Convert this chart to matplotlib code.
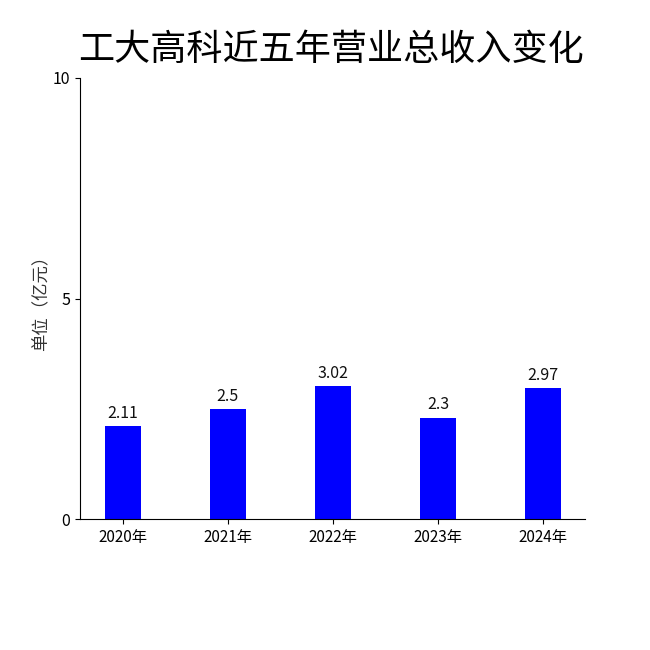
import matplotlib
matplotlib.use("Agg")
import matplotlib.pyplot as plt

plt.rcParams['font.family'] = ['Noto Sans CJK SC', 'DejaVu Sans']

categories = ["2020年", "2021年", "2022年", "2023年", "2024年"]
values = [2.11, 2.5, 3.02, 2.3, 2.97]
value_labels = ["2.11", "2.5", "3.02", "2.3", "2.97"]
yticks = [0, 5, 10]
title = "工大高科近五年营业总收入变化"
ylabel = "单位（亿元）"

fig = plt.figure(figsize=(6.5, 6.5), dpi=100)
ax = fig.add_axes([0.123, 0.2015, 0.777, 0.6785])

x = list(range(len(categories)))
bars = ax.bar(x, values, width=0.34, color="#0000FF")
for xi, v, lab in zip(x, values, value_labels):
    ax.annotate(lab, (xi, v), xytext=(0, 3), textcoords="offset points",
                ha="center", va="bottom", fontsize=11.5, color="#111111")

ax.set_xlim(-0.407, 4.40)
ax.set_ylim(0, 10)
ax.set_yticks(yticks)
ax.set_xticks(x)
ax.set_xticklabels(categories, fontsize=11)
ax.tick_params(axis='y', labelsize=11.5)
ax.spines['top'].set_visible(False)
ax.spines['right'].set_visible(False)
ax.set_ylabel(ylabel, fontsize=12.5, color="#333333", labelpad=2)
fig.text(0.51, 0.923, title, fontsize=26, ha="center", va="center")

fig.savefig("out.png", dpi=100)
